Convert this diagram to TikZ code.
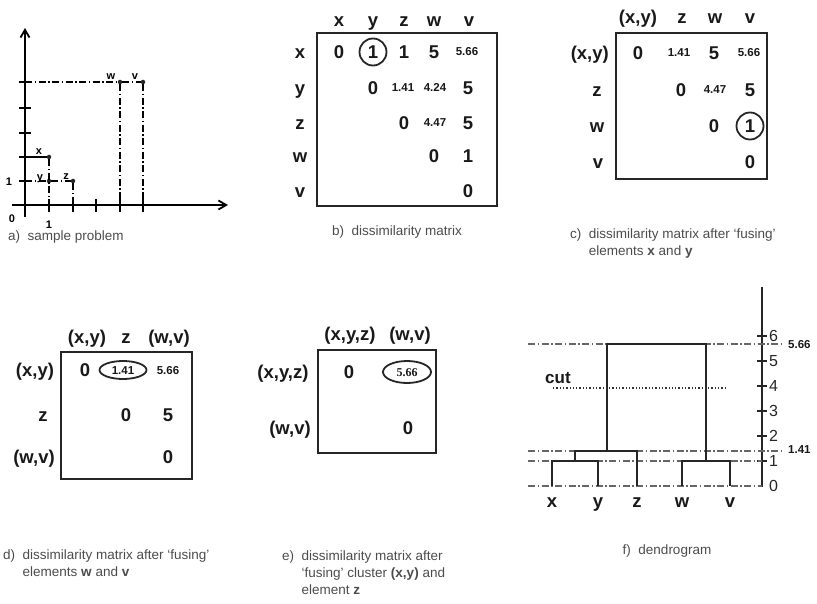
\documentclass[tikz,border=0pt]{standalone}
\usepackage{fontspec}
\setmainfont{Liberation Sans}
\newfontfamily\serifnum{Liberation Serif}
\usetikzlibrary{arrows.meta}

\begin{document}
\begin{tikzpicture}[x=1pt,y=-1pt,
  lbl/.style={font=\fontsize{18.5}{18.5}\selectfont\bfseries, text=black!90, inner sep=0pt, text height=13pt, text depth=0pt},
  num/.style={font=\fontsize{11.5}{11.5}\selectfont\bfseries, text=black!90, inner sep=0pt, text height=8pt, text depth=0pt},
  ticklbl/.style={font=\fontsize{16}{16}\selectfont, text=black!85, inner sep=0pt},
  ptlbl/.style={font=\fontsize{11}{11}\selectfont\bfseries, inner sep=0pt, text height=8pt, text depth=0pt},
  capt/.style={font=\fontsize{13.5}{17}\selectfont, text=black!70, inner sep=0pt, anchor=north west},
  mbox/.style={line width=2pt, black!85},
  ring/.style={line width=1.8pt, black!85},
  ddot/.style={dash pattern=on 7pt off 2.5pt on 1.5pt off 2.5pt, line width=1.1pt},
  tree/.style={line width=2.1pt, black!85},
  pdot/.style={circle, fill=black!85, inner sep=0pt, minimum size=4.5pt}]
\useasboundingbox (0,0) rectangle (817,604);

% a) sample problem
\coordinate (orig) at (25,205);
\draw[line width=2pt, -{Straight Barb[angle=60:9pt, line width=1.8pt]}] (12,205) -- (228,205);
\draw[line width=2pt, -{Straight Barb[angle=60:9pt, line width=1.8pt]}] (25,217) -- (25,28);
\foreach \xx in {49,73,96,120,143} \draw[line width=1.8pt] (\xx,199) -- (\xx,212);
\foreach \yy in {181,157,133,108,82} \draw[line width=1.8pt] (19,\yy) -- (31,\yy);
\node[pdot] (px) at (49,157) {};
\node[pdot] (py) at (49,181) {};
\node[pdot] (pz) at (73,181) {};
\node[pdot] (pw) at (120,82) {};
\node[pdot] (pv) at (143,82) {};
\draw[line width=1.2pt] (25,157) -- (px);
\draw[ddot] (25,181) -- (py) -- (pz);
\draw[ddot] (25,82) -- (pw) -- (pv);
\draw[ddot] (px) -- (49,205);
\draw[ddot] (pz) -- (73,205);
\draw[ddot] (pw) -- (120,205);
\draw[ddot] (pv) -- (143,205);
\node[ptlbl] (lx) at (39,151) {x};
\node[ptlbl] (ly) at (40,177) {y};
\node[ptlbl] (lz) at (66,176) {z};
\node[ptlbl] (lw) at (111,76) {w};
\node[ptlbl] (lv) at (135,76) {v};
\node[ptlbl] (zero) at (12,219) {0};
\node[ptlbl] (oney) at (9,182) {1};
\node[ptlbl] (onex) at (49,225) {1};
\node[capt] (capa) at (8,231) {a)\ \ sample problem};

% b) dissimilarity matrix
\draw[mbox] (317,33) rectangle (497,206);
\foreach \c/\xx in {x/339,y/373,z/404,w/434,v/469} {
  \node[lbl] (bh\c) at (\xx,20) {\c};
}
\foreach \r/\yy in {x/52,y/88,z/123,w/156,v/191} {
  \node[lbl] (br\r) at (300,\yy) {\r};
}
\node[lbl] (bxx) at (339,52) {0};
\node[lbl] (bxy) at (373,52) {1};
\node[lbl] (bxz) at (404,52) {1};
\node[lbl] (bxw) at (434,52) {5};
\node[num] (bxv) at (467,52) {5.66};
\node[lbl] (byy) at (373,88) {0};
\node[num] (byz) at (403,88) {1.41};
\node[num] (byw) at (435,88) {4.24};
\node[lbl] (byv) at (468,88) {5};
\node[lbl] (bzz) at (404,123) {0};
\node[num] (bzw) at (435,123) {4.47};
\node[lbl] (bzv) at (468,123) {5};
\node[lbl] (bww) at (434,156) {0};
\node[lbl] (bwv) at (468,156) {1};
\node[lbl] (bvv) at (468,191) {0};
\draw[ring] (bxy) circle (13.5);
\node[capt, anchor=north] (capb) at (397,226) {b)\ \ dissimilarity matrix};

% c) after fusing x and y
\draw[mbox] (616,33) rectangle (767,179);
\node[lbl] (chxy) at (638,17) {(x,y)};
\node[lbl] (chz) at (682,17) {z};
\node[lbl] (chw) at (715,17) {w};
\node[lbl] (chv) at (750,17) {v};
\node[lbl, anchor=east] (crxy) at (609,53) {(x,y)};
\node[lbl] (crz) at (597,90) {z};
\node[lbl] (crw) at (597,126) {w};
\node[lbl] (crv) at (598,162) {v};
\node[lbl] (cxyxy) at (638,53) {0};
\node[num] (cxyz) at (679,53) {1.41};
\node[lbl] (cxyw) at (714,53) {5};
\node[num] (cxyv) at (749,53) {5.66};
\node[lbl] (czz) at (681,90) {0};
\node[num] (czw) at (715,90) {4.47};
\node[lbl] (czv) at (750,90) {5};
\node[lbl] (cww) at (714,126) {0};
\node[lbl] (cwv) at (750,126) {1};
\node[lbl] (cvv) at (750,162) {0};
\draw[ring] (cwv) circle (13.5);
\node[capt] (capc) at (570,226) {c)\ \ \begin{tabular}[t]{@{}l@{}}dissimilarity matrix after `fusing'\\ elements \textbf{x} and \textbf{y}\end{tabular}};

% d) after fusing w and v
\draw[mbox] (61,352) rectangle (192,479);
\node[lbl] (dhxy) at (87,337) {(x,y)};
\node[lbl] (dhz) at (126,337) {z};
\node[lbl] (dhwv) at (169,337) {(w,v)};
\node[lbl] (drxy) at (35,370) {(x,y)};
\node[lbl] (drz) at (43,415) {z};
\node[lbl] (drwv) at (34,457) {(w,v)};
\node[lbl] (dxyxy) at (85,370) {0};
\node[num] (dxyz) at (123,370) {1.41};
\node[num] (dxywv) at (168,370) {5.66};
\node[lbl] (dzz) at (126,415) {0};
\node[lbl] (dzwv) at (168,415) {5};
\node[lbl] (dwvwv) at (168,457) {0};
\draw[ring] (dxyz) ellipse (23.5 and 9);
\node[capt] (capd) at (3,547) {d)\ \ \begin{tabular}[t]{@{}l@{}}dissimilarity matrix after `fusing'\\ elements \textbf{w} and \textbf{v}\end{tabular}};

% e) after fusing (x,y) and z
\draw[mbox] (318,350) rectangle (436,453);
\node[lbl] (ehxyz) at (350,334) {(x,y,z)};
\node[lbl] (ehwv) at (410,334) {(w,v)};
\node[lbl] (erxyz) at (283,372) {(x,y,z)};
\node[lbl] (erwv) at (290,428) {(w,v)};
\node[lbl] (exyzxyz) at (349,372) {0};
\node[num, font=\fontsize{12}{12}\selectfont\serifnum\bfseries] (exyzwv) at (407,372) {5.66};
\node[lbl] (ewvwv) at (408,428) {0};
\draw[ring] (exyzwv) ellipse (24 and 11);
\node[capt] (cape) at (282,548) {e)\ \ \begin{tabular}[t]{@{}l@{}}dissimilarity matrix after\\ `fusing' cluster \textbf{(x,y)} and\\ element \textbf{z}\end{tabular}};

% f) dendrogram
\draw[line width=2.1pt, black!85] (762,287) -- (762,487);
\foreach \lv in {1,...,6} {
  \draw[line width=1.8pt, black!85] (757,486-25*\lv) -- (767,486-25*\lv);
  \node[ticklbl, anchor=west] (t\lv) at (769,486-25*\lv) {\lv};
}
\node[ticklbl, anchor=west] (t0) at (769,486) {0};
\draw[ddot, black!60] (528,486) -- (762,486);
\draw[ddot, black!60] (528,461) -- (762,461);
\draw[ddot, black!60] (528,451) -- (783,451);
\draw[ddot, black!60] (528,344) -- (782,344);
\node[num, anchor=west] (f566) at (788,344) {5.66};
\node[num, anchor=west] (f141) at (788,449) {1.41};
\foreach \c/\xx in {x/552,y/598,z/637,w/682,v/730} {
  \coordinate (b\c) at (\xx,486);
  \node[lbl] (leaf\c) at (\xx,501) {\c};
}
\coordinate (mxy) at (575,461);
\coordinate (mxyz) at (607,451);
\coordinate (mwv) at (706,461);
\coordinate (mall) at (656,344);
\draw[tree] (bx) |- (mxy) -| (by);
\draw[tree] (mxy) |- (mxyz) -| (bz);
\draw[tree] (mxyz) |- (mall) -| (mwv);
\draw[tree] (bw) |- (mwv) -| (bv);
\node[lbl, font=\fontsize{17}{17}\selectfont\bfseries, anchor=west] (cut) at (545,377) {cut};
\draw[dotted, line width=1.3pt, black!80] (553,388) -- (727,388);
\node[capt, anchor=north] (capf) at (667,545) {f)\ \ dendrogram};
\end{tikzpicture}
\end{document}
